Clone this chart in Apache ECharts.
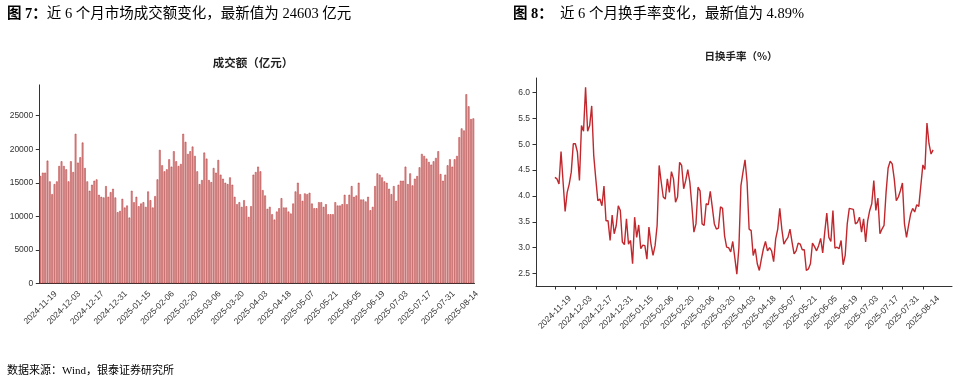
<!DOCTYPE html>
<html><head><meta charset="utf-8">
<script src="https://cdn.jsdelivr.net/npm/echarts@6/dist/echarts.min.js"></script>
<style>html,body{margin:0;padding:0;background:#fff}#c{width:963px;height:382px}</style>
</head><body><div id="c"></div>
<script>
// Trading days (month -> days)
const tradeMonths = ['2024-11','2024-12','2025-01','2025-02','2025-03','2025-04','2025-05','2025-06','2025-07','2025-08'];
const tradeDaysByMonth = [
  [19,20,21,22,25,26,27,28,29],
  [2,3,4,5,6,9,10,11,12,13,16,17,18,19,20,23,24,25,26,27,30,31],
  [2,3,6,7,8,9,10,13,14,15,16,17,20,21,22,23,24,27],
  [5,6,7,10,11,12,13,14,17,18,19,20,21,24,25,26,27,28],
  [3,4,5,6,7,10,11,12,13,14,17,18,19,20,21,24,25,26,27,28,31],
  [1,2,3,7,8,9,10,11,14,15,16,17,18,21,22,23,24,25,28,29,30],
  [6,7,8,9,12,13,14,15,16,19,20,21,22,23,26,27,28,29,30],
  [3,4,5,6,9,10,11,12,13,16,17,18,19,20,23,24,25,26,27,30],
  [1,2,3,4,7,8,9,10,11,14,15,16,17,18,21,22,23,24,25,28,29,30,31],
  [1,4,5,6,7,8,11,12,13,14,15,18,19,20,21]
];
// 成交额（亿元）
const turnover = [
  16000,16500,16500,18300,15200,13300,14800,15200,17500,18200,
  17500,17000,15200,18200,16600,22300,18000,18800,21000,17200,
  15200,13800,14700,15300,15500,13200,12900,12800,14500,12900,
  13600,14100,12800,10600,10800,12600,11300,11600,9800,13800,
  12100,12900,11500,11900,12100,11400,13700,12400,11300,13000,
  15500,19900,17600,16700,17000,18500,17400,19700,18200,17500,
  17800,22300,21100,19300,19700,20400,19000,16700,14800,15400,
  19500,18600,15400,15100,17200,16500,18400,16200,15600,15000,
  14800,15800,14700,12900,11800,12100,11400,12400,11500,9900,
  11500,16200,16600,17400,16700,13900,13100,11100,11400,10300,
  9500,10700,11200,12700,11300,11300,10700,10400,11900,13700,
  15000,13300,12300,13400,13300,13500,11900,11200,11200,12100,
  12100,11400,11800,10300,10300,10300,12100,11600,11600,11800,
  13200,11800,13200,14500,12900,13100,15000,12500,12500,12200,
  12900,10900,11400,14500,16400,16200,15800,15200,15000,14100,
  13300,14500,12300,14700,15300,15300,17400,14800,16400,14600,
  15600,16000,17300,19300,19000,18600,18100,17700,18200,18700,
  19700,16300,15300,16200,17600,18500,17400,18500,19000,21800,
  23100,22800,28200,26400,24500,24603
];
// 日换手率（%）
const turnoverRate = [
  4.36,4.33,4.23,4.86,4.27,3.70,4.07,4.23,4.46,5.01,
  5.01,4.85,4.30,5.36,5.25,6.10,5.25,5.36,5.74,4.78,
  4.33,3.91,3.94,3.81,4.19,3.52,3.52,3.14,3.63,3.27,
  3.43,3.81,3.72,3.11,3.06,3.56,3.07,3.14,2.69,3.59,
  3.20,3.44,2.98,3.05,3.04,2.78,3.40,3.07,2.85,3.04,
  3.43,4.59,4.27,3.98,3.94,4.33,4.07,4.47,4.33,3.88,
  3.98,4.65,4.59,4.14,4.30,4.51,4.27,3.81,3.30,3.46,
  4.17,4.10,3.46,3.43,3.85,3.83,4.09,3.78,3.46,3.36,
  3.38,3.79,3.76,3.23,3.01,3.00,2.92,3.12,2.81,2.49,
  3.00,4.20,4.46,4.70,4.27,3.36,3.33,2.85,2.98,2.69,
  2.56,2.78,2.98,3.12,2.94,3.00,2.94,2.73,3.17,3.36,
  3.76,3.36,3.07,3.14,3.20,3.36,3.11,2.88,2.94,3.09,
  3.07,2.96,2.96,2.56,2.59,2.69,3.09,3.02,2.94,3.04,
  3.18,2.90,3.30,3.67,3.20,3.12,3.72,2.99,3.01,2.98,
  3.14,2.67,2.85,3.46,3.76,3.75,3.74,3.46,3.49,3.59,
  3.30,3.56,3.11,3.52,3.72,3.85,4.30,3.72,3.96,3.27,
  3.36,3.43,4.07,4.54,4.67,4.62,4.33,3.91,3.98,4.10,
  4.25,3.46,3.20,3.43,3.65,3.76,3.69,3.83,3.80,4.20,
  4.60,4.51,5.41,5.01,4.81,4.89
];
const leftYTicks = [0,5000,10000,15000,20000,25000];
const rightYTicks = [2.5,3.0,3.5,4.0,4.5,5.0,5.5,6.0];

const dates = [];
tradeMonths.forEach((m,k)=>tradeDaysByMonth[k].forEach(d=>dates.push(m+'-'+String(d).padStart(2,'0'))));
const xTickIdx = [];
for (let i=0;i<dates.length;i+=10) xTickIdx.push(i);

const axisColor = '#333';
const labelFont = 'Liberation Sans, Arial, sans-serif';
const cjk = 'Noto Sans CJK SC';
const serif = 'Liberation Serif, Noto Sans CJK SC';

const chart = echarts.init(document.getElementById('c'), null, {renderer:'canvas'});
chart.setOption({
  animation:false,
  backgroundColor:'#fff',
  graphic:[
    {type:'text', left:7, top:7, style:{text:'{b|图 7：}{n|近 6 个月市场成交额变化，最新值为 24603 亿元}', rich:{
      b:{fontFamily:serif, fontSize:14.5, fontWeight:'bold', fill:'#000'},
      n:{fontFamily:serif, fontSize:14.5, fill:'#000'}}}},
    {type:'text', left:513, top:7, style:{text:'图 8：', fontFamily:serif, fontSize:14.5, fontWeight:'bold', fill:'#000'}},
    {type:'text', left:560, top:7, style:{text:'近 6 个月换手率变化，最新值为 4.89%', fontFamily:serif, fontSize:14.5, fill:'#000'}},
    {type:'text', left:7, top:366, style:{text:'数据来源：Wind，银泰证券研究所', fontFamily:serif, fontSize:11, fill:'#000'}},
    {type:'text', x:253, y:63, style:{text:'成交额（亿元）', fontFamily:cjk, fontSize:11.5, fontWeight:'bold', fill:'#222', align:'center', verticalAlign:'middle'}},
    {type:'text', x:741, y:56, style:{text:'日换手率（%）', fontFamily:cjk, fontSize:10.5, fontWeight:'bold', fill:'#222', align:'center', verticalAlign:'middle'}}
  ],
  grid:[
    {left:39.3, top:84.9, width:435.2, height:198.4},
    {left:536, top:78, width:416, height:208}
  ],
  xAxis:[
    {type:'category', gridIndex:0, data:dates, boundaryGap:true,
     axisLine:{lineStyle:{color:axisColor, width:1}},
     axisTick:{interval:9, alignWithLabel:true, length:3.5, lineStyle:{color:axisColor}},
     axisLabel:{interval:9, rotate:45, align:'center', verticalAlign:'middle', margin:24.5, fontSize:8.5, fontFamily:labelFont, color:'#333'}},
    {type:'value', gridIndex:1, min:-9.25, max:194.25,
     splitLine:{show:false},
     axisLine:{onZero:false, lineStyle:{color:axisColor, width:1}},
     axisTick:{customValues:xTickIdx, length:3.5, lineStyle:{color:axisColor}},
     axisLabel:{customValues:xTickIdx, formatter:v=>dates[Math.round(v)], rotate:45, align:'center', verticalAlign:'middle', margin:26.5, fontSize:8.5, fontFamily:labelFont, color:'#333'}}
  ],
  yAxis:[
    {type:'value', gridIndex:0, min:0, max:29600,
     splitLine:{show:false},
     axisLine:{show:true, lineStyle:{color:axisColor, width:1}},
     axisTick:{show:true, customValues:leftYTicks, length:3.5, lineStyle:{color:axisColor}},
     axisLabel:{customValues:leftYTicks, formatter:v=>String(v), margin:6, fontSize:8.5, fontFamily:labelFont, color:'#333'}},
    {type:'value', gridIndex:1, min:2.26, max:6.28,
     splitLine:{show:false},
     axisLine:{show:true, onZero:false, lineStyle:{color:axisColor, width:1}},
     axisTick:{show:true, customValues:rightYTicks, length:3.5, lineStyle:{color:axisColor}},
     axisLabel:{customValues:rightYTicks, formatter:v=>v.toFixed(1), margin:6, fontSize:8.5, fontFamily:labelFont, color:'#333'}}
  ],
  series:[
    {type:'bar', xAxisIndex:0, yAxisIndex:0, data:turnover, barWidth:'72%',
     itemStyle:{color:'#d9a0a0', borderColor:'#b52a2a', borderWidth:0.5}},
    {type:'line', xAxisIndex:1, yAxisIndex:1, data:turnoverRate.map((v,i)=>[i,v]),
     symbol:'none', lineStyle:{color:'#c0282d', width:1.4}}
  ]
});
</script></body></html>
